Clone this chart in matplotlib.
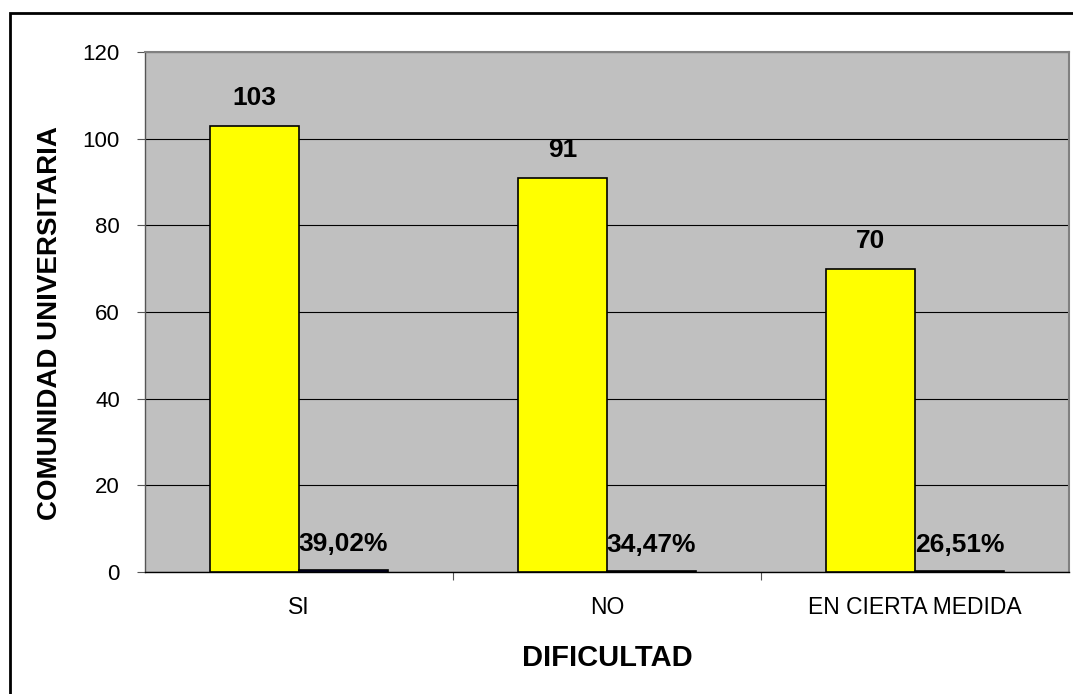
import matplotlib
matplotlib.use("Agg")
import matplotlib.pyplot as plt
from matplotlib.patches import Rectangle
import numpy as np

categories = ["SI", "NO", "EN CIERTA MEDIDA"]
counts = [103, 91, 70]
percents = [0.3902, 0.3447, 0.2651]
percent_labels = ["39,02%", "34,47%", "26,51%"]
yticks = [0, 20, 40, 60, 80, 100, 120]

W, H = 1073, 694
fig = plt.figure(figsize=(W / 100, H / 100), dpi=100)
plt.rcParams['font.family'] = ['Liberation Sans', 'DejaVu Sans']

left, right, top, bottom = 145, 1069, 52, 572
ax = fig.add_axes([left / W, 1 - bottom / H, (right - left) / W, (bottom - top) / H])
ax.set_facecolor("#C0C0C0")

x = np.arange(len(categories))
bw = 0.289
ax.bar(x - bw / 2, counts, width=bw, color="#FFFF00", edgecolor="black", linewidth=1.2, zorder=3)
ax.bar(x + bw / 2, percents, width=bw, color="#000080", edgecolor="black", linewidth=1.2, zorder=3)

for xi, c in zip(x, counts):
    ax.text(xi - bw / 2, c + 3.6, str(c), ha="center", va="bottom", fontsize=19, fontweight="bold")
for xi, p, lab in zip(x, percents, percent_labels):
    ax.text(xi + bw / 2, p + 3.2, lab, ha="center", va="bottom", fontsize=19, fontweight="bold")

ax.set_xlim(-0.5, 2.5)
ax.set_ylim(0, 120)
ax.set_yticks(yticks)
ax.set_yticklabels([str(v) for v in yticks], fontsize=16)
ax.yaxis.grid(True, color="black", linewidth=0.8, zorder=0)
ax.set_axisbelow(True)

ax.set_xticks([0.5, 1.5], minor=False)
ax.set_xticklabels([])
ax.set_xticks(x, minor=True)
ax.set_xticklabels(categories, minor=True, fontsize=16.5)
ax.tick_params(axis="x", which="minor", length=0, pad=17)
ax.tick_params(axis="x", which="major", length=6, direction="out", color="#555555")
ax.tick_params(axis="y", length=6, direction="out", color="#555555", pad=12)

for side in ["top", "right"]:
    ax.spines[side].set_color("#808080")
    ax.spines[side].set_linewidth(1.5)
ax.spines["left"].set_color("#555555")
ax.spines["bottom"].set_color("black")
ax.spines["left"].set_linewidth(1.0)
ax.spines["bottom"].set_linewidth(1.0)

ax.set_xlabel("DIFICULTAD", fontsize=21, fontweight="bold", labelpad=18)
ax.set_ylabel("COMUNIDAD UNIVERSITARIA", fontsize=20, fontweight="bold")
ax.yaxis.set_label_coords((50 - left) / (right - left), (bottom - 323.5) / (bottom - top))
ax.yaxis.label.set_va("center")

fig.patches.append(Rectangle((10 / W, -0.05), 1.1, 1 - 13 / H + 0.05, transform=fig.transFigure,
                             fill=False, edgecolor="black", linewidth=2))

fig.savefig("out.png", dpi=100)
